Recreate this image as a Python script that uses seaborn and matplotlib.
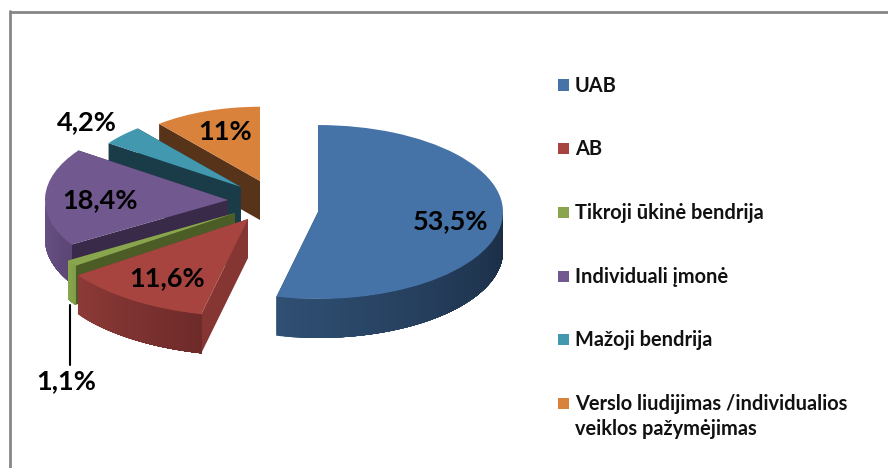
import numpy as np
import seaborn as sns
import matplotlib.pyplot as plt
from matplotlib.patches import Rectangle

categories = ["UAB", "AB", "Tikroji ūkinė bendrija", "Individuali įmonė", "Mažoji bendrija",
              "Verslo liudijimas /individualios\nveiklos pažymėjimas"]
shares = [53.5, 11.6, 1.1, 18.4, 4.2, 11.0]
share_labels = ["53,5%", "11,6%", "1,1%", "18,4%", "4,2%", "11%"]

colors = ["#4572a7", "#a8443f", "#89a54e", "#71588f", "#4198af", "#d9823c"]
side_left = ["#2f4f73", "#8c3a37", "#8aa94e", "#6a5287", "#1a3c48", "#57331a"]
side_right = ["#1a2c43", "#6e2b2a", "#7f9c48", "#5c4676", "#1a3c48", "#57331a"]
cut_colors = ["#1f3550", "#853633", "#4c5c27", "#3a2a4a", "#1a3c48", "#57331a"]

# layout in pixels of the picture: the pie is tilted by squashing the y axis
W, H = 888, 468
tilt = 0.47
depth = 39
apex_px = [(318, 212), (248, 219), (235, 213), (228, 200), (241, 187), (260, 181)]
radius_px = [185, 208, 195, 183, 162, 158]
draw_order = [6, 5, 4, 3, 2, 1]
label_px = [(451, 221), (167, 278), (66, 381), (100, 200), (87, 122), (225, 132)]
legend_y = [85, 148, 212, 276, 339, 403]


def to_data(px, py):
    return px, (H - py) / tilt


sns.set_theme(style="white")
plt.rcParams["font.family"] = ["Lato", "DejaVu Sans"]

fig = plt.figure(figsize=(W / 100, H / 100), dpi=100)
ax = fig.add_axes([0, 0, 1, 1])
wedges, _ = ax.pie(shares, colors=sns.color_palette(colors), startangle=90, counterclock=False,
                   radius=1.0, wedgeprops={"linewidth": 0})
ax.set_aspect("auto")
ax.set_xlim(0, W)
ax.set_ylim(0, H / tilt)
ax.axis("off")

d = depth / tilt
for i, w in enumerate(wedges):
    cx, cy = to_data(*apex_px[i])
    r = radius_px[i]
    w.set_center((cx, cy))
    w.set_radius(r)
    w.set_zorder(draw_order[i] + 0.5)
    z = draw_order[i]

    # cut faces below the two straight edges
    for t in (w.theta1, w.theta2):
        ex = cx + r * np.cos(np.radians(t))
        ey = cy + r * np.sin(np.radians(t))
        ax.fill([cx, ex, ex, cx], [cy, ey, ey - d, cy - d], color=cut_colors[i], lw=0, zorder=z)

    # outer rim, only where it faces the viewer; each strip runs to the end
    # of the rim and the next one paints over it, so no seams show
    angles = np.linspace(w.theta1, w.theta2, 240)
    angles = angles[np.sin(np.radians(angles)) < 0]
    if len(angles) > 1:
        shades = sns.blend_palette([side_left[i], side_right[i]], 40)
        for k, c in enumerate(shades):
            part = angles[int(k * len(angles) / 40):]
            if len(part) < 2:
                continue
            xs = cx + r * np.cos(np.radians(part))
            ys = cy + r * np.sin(np.radians(part))
            ax.fill(np.r_[xs, xs[::-1]], np.r_[ys, ys[::-1] - d], color=c, lw=0, zorder=z + 0.2)

for (px, py), text in zip(label_px, share_labels):
    x, y = to_data(px, py)
    ax.text(x, y, text, ha="center", va="center", fontsize=19.5, fontweight="bold", color="black", zorder=20)

# leader line of the 1,1% slice
x0, y0 = to_data(70, 305)
x1, y1 = to_data(70, 365)
ax.plot([x0, x1], [y0, y1], color="black", lw=1.5, zorder=20)

# legend
for name, c, ly in zip(categories, colors, legend_y):
    fig.patches.append(Rectangle((558 / W, 1 - (ly + 5.5) / H), 11 / W, 11 / H, transform=fig.transFigure,
                                 facecolor=c, edgecolor="none", figure=fig))
    fig.text(575 / W, 1 - (ly - 9) / H, name, ha="left", va="top", fontsize=14.4, fontweight="bold",
             color="#111111", linespacing=1.3)

# outer frame, only top and left are in the picture
fig.add_artist(plt.Line2D([10 / W, 10 / W], [0, 1 - 11 / H], color="#868686", lw=2))
fig.add_artist(plt.Line2D([10 / W, 1], [1 - 12 / H, 1 - 12 / H], color="#868686", lw=2))

fig.savefig("out.png", dpi=100, facecolor="white")
